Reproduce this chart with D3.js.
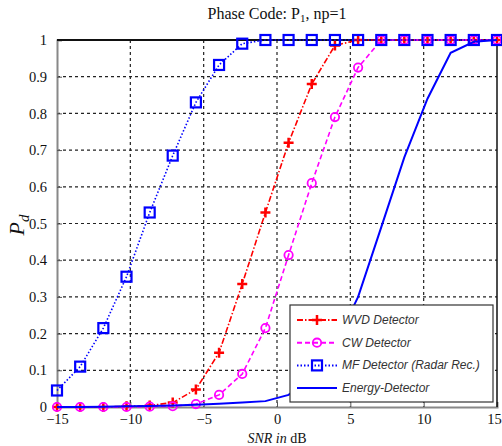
<!DOCTYPE html>
<html>
<head>
<meta charset="utf-8">
<script src="https://cdn.jsdelivr.net/npm/d3@7"></script>
<style>
  body { margin: 0; background: #fff; }
  svg { display: block; }
</style>
</head>
<body>
<svg id="chart"></svg>
<script>
// SNR sample points (dB)
const snr = [-15, -13.42, -11.84, -10.26, -8.68, -7.11, -5.53, -3.95, -2.37, -0.79,
  0.79, 2.37, 3.95, 5.53, 7.11, 8.68, 10.26, 11.84, 13.42, 15];

// detection probability per detector
const wvd = [0, 0, 0, 0.002, 0.004, 0.012, 0.048, 0.148, 0.335, 0.53,
  0.72, 0.88, 0.985, 1, 1, 1, 1, 1, 1, 1];
const cw = [0, 0, 0, 0, 0.001, 0.002, 0.008, 0.033, 0.09, 0.215,
  0.414, 0.61, 0.79, 0.925, 1, 1, 1, 1, 1, 1];
const mf = [0.045, 0.11, 0.215, 0.355, 0.53, 0.685, 0.83, 0.932, 0.99, 1,
  1, 1, 1, 1, 1, 1, 1, 1, 1, 1];
const energy = [0, 0, 0.001, 0.002, 0.003, 0.004, 0.006, 0.009, 0.012, 0.016,
  0.033, 0.08, 0.17, 0.3, 0.49, 0.68, 0.84, 0.965, 0.995, 1];

const xTicks = [-15, -10, -5, 0, 5, 10, 15];
const yTicks = [0, 0.1, 0.2, 0.3, 0.4, 0.5, 0.6, 0.7, 0.8, 0.9, 1];

const series = [
  { name: 'WVD Detector', values: wvd, color: '#ff0000', dash: '6,2,1.5,2', marker: 'plus' },
  { name: 'CW Detector', values: cw, color: '#ff00ff', dash: '5,3', marker: 'circle' },
  { name: 'MF Detector (Radar Rec.)', values: mf, color: '#0000ff', dash: '1.5,2', marker: 'square' },
  { name: 'Energy-Detector', values: energy, color: '#0000ff', dash: null, marker: null },
];

const width = 502;
const height = 446;
const margin = { top: 40, right: 5, bottom: 39, left: 57 };
const chartWidth = width - margin.left - margin.right;
const chartHeight = height - margin.top - margin.bottom;

const svg = d3.select('#chart').attr('width', width).attr('height', height);
const g = svg.append('g').attr('transform', `translate(${margin.left}, ${margin.top})`);

const xScale = d3.scaleLinear().domain([-15, 15]).range([0, chartWidth]);
const yScale = d3.scaleLinear().domain([0, 1]).range([chartHeight, 0]);

// grid
g.append('g')
  .selectAll('line')
  .data(xTicks.slice(1, -1))
  .enter()
  .append('line')
  .attr('x1', (d) => xScale(d)).attr('x2', (d) => xScale(d))
  .attr('y1', 0).attr('y2', chartHeight)
  .attr('stroke', '#222').attr('stroke-width', 1.2).attr('stroke-dasharray', '3,3');

g.append('g')
  .selectAll('line')
  .data(yTicks.slice(1, -1))
  .enter()
  .append('line')
  .attr('x1', 0).attr('x2', chartWidth)
  .attr('y1', (d) => yScale(d)).attr('y2', (d) => yScale(d))
  .attr('stroke', '#222').attr('stroke-width', 1.2).attr('stroke-dasharray', '3,3');

// axes
const xAxis = g.append('g')
  .attr('transform', `translate(0, ${chartHeight})`)
  .call(d3.axisBottom(xScale).tickValues(xTicks).tickSize(-5).tickPadding(7).tickFormat(d3.format('d')));
const yAxis = g.append('g')
  .call(d3.axisLeft(yScale).tickValues(yTicks).tickSize(-5).tickPadding(10).tickFormat((d) => (d === 0 || d === 1 ? d : d3.format('.1f')(d))));

[xAxis, yAxis].forEach((ax) => {
  ax.select('.domain').attr('stroke', '#888').attr('stroke-width', 2);
  ax.selectAll('.tick line').attr('stroke', '#555');
  ax.selectAll('text')
    .attr('fill', '#111')
    .style('font-family', '"Liberation Serif", "Times New Roman", serif')
    .style('font-size', '14.5px');
});
// keep the last x label inside the picture
xAxis.selectAll('.tick text').filter((d) => d === 15).attr('dx', -3);

// top and right frame
g.append('line').attr('x1', 0).attr('x2', chartWidth).attr('y1', 0).attr('y2', 0)
  .attr('stroke', '#111').attr('stroke-width', 2);
g.append('line').attr('x1', chartWidth).attr('x2', chartWidth).attr('y1', 0).attr('y2', chartHeight)
  .attr('stroke', '#111').attr('stroke-width', 1.5);

// marker drawing
function drawMarker(sel, type, color) {
  if (type === 'plus') {
    sel.append('path')
      .attr('d', 'M-5,0H5M0,-5V5')
      .attr('stroke', color).attr('stroke-width', 2.5).attr('fill', 'none');
  } else if (type === 'circle') {
    sel.append('circle')
      .attr('r', 4.2)
      .attr('stroke', color).attr('stroke-width', 1.8).attr('fill', 'none');
  } else if (type === 'square') {
    sel.append('rect')
      .attr('x', -5).attr('y', -5).attr('width', 10).attr('height', 10)
      .attr('stroke', color).attr('stroke-width', 2.2).attr('fill', 'none');
  }
}

const line = d3.line()
  .x((d) => xScale(d[0]))
  .y((d) => yScale(d[1]));

series.forEach((s) => {
  const pts = snr.map((x, i) => [x, s.values[i]]);
  g.append('path')
    .datum(pts)
    .attr('d', line)
    .attr('fill', 'none')
    .attr('stroke', s.color)
    .attr('stroke-width', s.marker ? 1.6 : 2)
    .attr('stroke-dasharray', s.dash);

  if (s.marker) {
    g.append('g')
      .selectAll('g')
      .data(pts)
      .enter()
      .append('g')
      .attr('transform', (d) => `translate(${xScale(d[0])}, ${yScale(d[1])})`)
      .each(function () { drawMarker(d3.select(this), s.marker, s.color); });
  }
});

// legend
const legend = g.append('g').attr('transform', `translate(${233}, ${265})`);
legend.append('rect')
  .attr('width', 203).attr('height', 97)
  .attr('fill', '#fff').attr('stroke', '#333').attr('stroke-width', 1.2);

const items = legend.selectAll('.legend')
  .data(series)
  .enter()
  .append('g')
  .attr('transform', (_, i) => `translate(0, ${15 + i * 22.7})`);

items.append('line')
  .attr('x1', 7).attr('x2', 47)
  .attr('stroke', (d) => d.color)
  .attr('stroke-width', 2)
  .attr('stroke-dasharray', (d) => d.dash);

items.each(function (d) {
  const m = d3.select(this).append('g').attr('transform', 'translate(27, 0)');
  drawMarker(m, d.marker, d.color);
});

items.append('text')
  .attr('x', 52)
  .attr('y', 4)
  .attr('fill', '#333')
  .style('font-family', '"Liberation Sans", Arial, sans-serif')
  .style('font-style', 'italic')
  .style('font-size', '12px')
  .text((d) => d.name);

// title
const title = svg.append('text')
  .attr('x', 277)
  .attr('y', 19)
  .attr('text-anchor', 'middle')
  .style('font-family', '"Liberation Serif", "Times New Roman", serif')
  .style('font-size', '16px')
  .attr('fill', '#111');
title.append('tspan').text('Phase Code: P');
title.append('tspan').attr('dy', 3).style('font-size', '11px').text('1');
title.append('tspan').attr('dy', -3).text(', np=1');

// axis labels
const xLabel = svg.append('text')
  .attr('x', 277)
  .attr('y', 443)
  .attr('text-anchor', 'middle')
  .style('font-family', '"Liberation Serif", "Times New Roman", serif')
  .style('font-size', '14px')
  .attr('fill', '#111');
xLabel.append('tspan').style('font-style', 'italic').text('SNR in ');
xLabel.append('tspan').text('dB');

const yLabel = svg.append('text')
  .attr('transform', 'translate(24, 225) rotate(-90)')
  .attr('text-anchor', 'middle')
  .style('font-family', '"Liberation Serif", "Times New Roman", serif')
  .style('font-style', 'italic')
  .style('font-size', '22px')
  .attr('fill', '#111');
yLabel.append('tspan').text('P');
yLabel.append('tspan').attr('dy', 5).style('font-size', '15px').text('d');
</script>
</body>
</html>
